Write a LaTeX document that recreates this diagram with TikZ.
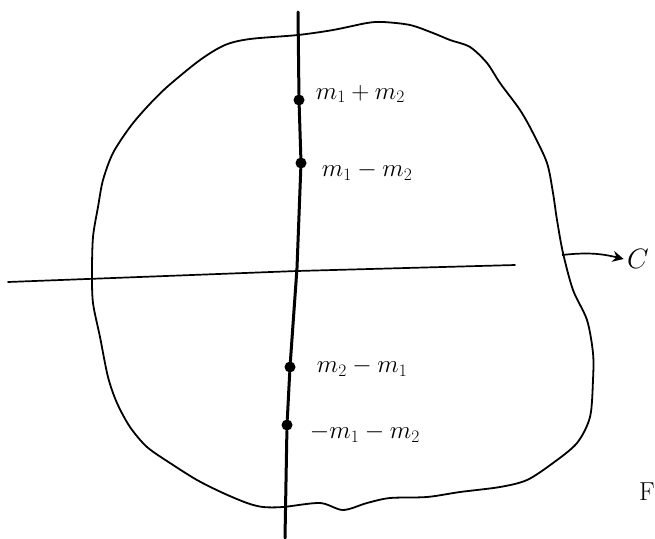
\documentclass[tikz,border=0pt]{standalone}
\usepackage{fix-cm}
\usepackage{amsmath,amssymb}
\usetikzlibrary{arrows.meta,positioning}
\newcommand{\sketchfont}{\fontsize{25}{30}\selectfont}

\begin{document}
\begin{tikzpicture}[
  x=1pt,y=-1pt,
  every node/.style={font=\sketchfont},
  dot/.style={circle,fill=black,inner sep=0pt,minimum size=11pt},
  lbl/.style={anchor=west,inner sep=1pt},
  axis/.style={line width=1.7pt,line cap=round},
  imaxis/.style={line width=3pt,line cap=round,line join=round},
  contour/.style={line width=1.8pt,line join=round},
  edge/.style={->,line width=1.7pt},
  >={Stealth[length=11pt,width=11pt]}
]
\useasboundingbox (0,0) rectangle (655,538);

% contour C
\draw[contour] plot[smooth cycle,tension=0.5] coordinates {
  (298,35) (333,30) (367,23) (383,22) (410,25) (433,33) (450,40) (470,47)
  (487,63) (500,83) (520,110) (533,133) (547,163) (553,193) (557,220)
  (563,253) (573,290) (587,320) (593,353) (593,380) (590,417) (577,443)
  (553,463) (527,480) (500,487) (460,492) (427,497) (390,498) (367,503)
  (343,510) (320,503) (283,507) (263,507) (247,503) (223,493) (197,480)
  (170,463) (147,447) (130,427) (117,403) (108,377) (100,337) (93,303)
  (92,273) (93,237) (98,207) (103,180) (113,153) (130,127) (147,107)
  (167,87) (200,60) (225,45) (250,39)};

% axes
\coordinate (xl) at (8,282);
\coordinate (xr) at (515,265);
\coordinate (yt) at (298,12);
\coordinate (yb) at (285,538);
\draw[axis] (xl) -- (297,271) -- (xr);

\node[dot] (pp) at (299,100) {};
\node[dot] (pm) at (301,163) {};
\node[dot] (mp) at (290,367) {};
\node[dot] (mm) at (287,425) {};
\draw[imaxis] (yt) -- (pp) -- (pm) -- (297,268) -- (mp) -- (mm) -- (yb);

\node[lbl,right=10pt of pp,yshift=6pt] {$m_1+m_2$};
\node[lbl,right=14pt of pm,yshift=-8pt] {$m_1-m_2$};
\node[lbl,right=20pt of mp] {$m_2-m_1$};
\node[lbl,right=16pt of mm,yshift=-8pt] {$-m_1-m_2$};

% label of the contour
\coordinate (cpt) at (562,255);
\node[font=\fontsize{28}{32}\selectfont] (clab) at (638,259) {$C$};
\draw[edge] (cpt) to[bend left=10] (clab.west);

\node[font=\fontsize{26}{30}\selectfont,anchor=east,inner sep=0pt] (fig) at (655,492) {F};
\end{tikzpicture}
\end{document}
